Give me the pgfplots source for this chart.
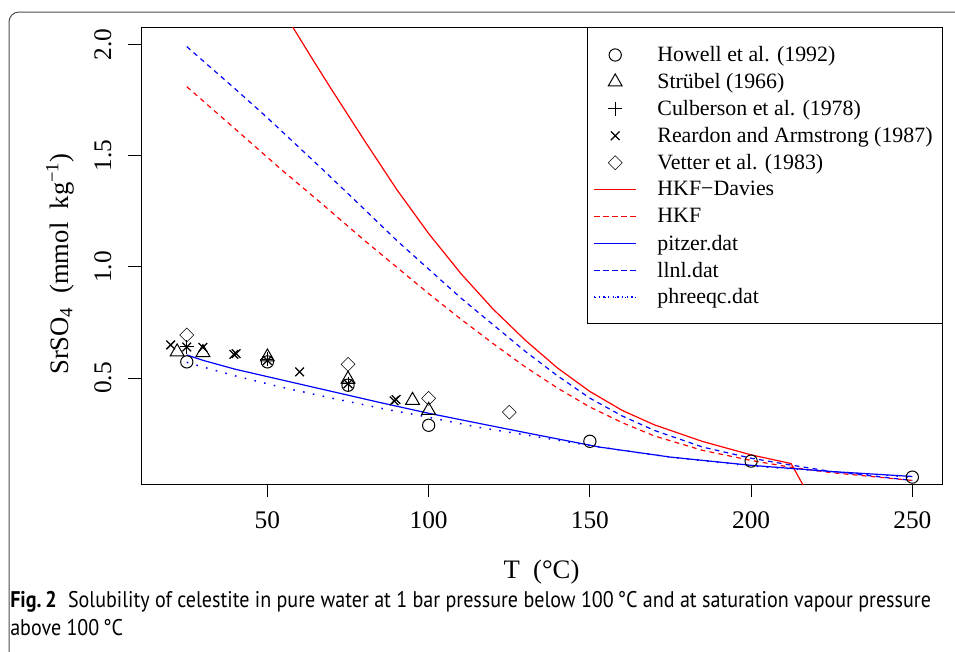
\documentclass[border=0pt]{standalone}
\usepackage{pgfplots}
\pgfplotsset{compat=1.18}
\usepackage{fontspec}
\setmainfont{Liberation Serif}
\newfontfamily\capfont[FakeStretch=0.885]{PT Sans}
\definecolor{rred}{RGB}{255,0,0}
\definecolor{rblue}{RGB}{0,0,255}
\pgfplotsset{
  markleg/.style={legend image code/.code={\draw[mark repeat=2,mark phase=2,##1] plot coordinates {(0pt,0pt) (15.375pt,0pt) (30.75pt,0pt)};}},
  pts/.style={only marks, black, mark options={solid, line width=0.75pt, draw=black, fill=none}, markleg},
  noleg/.style={legend image code/.code={\path (0pt,0pt) -- (30.75pt,0pt);}},
}
\begin{document}
\begin{tikzpicture}
\path[use as bounding box] (0pt,0pt) rectangle (716.25pt,-488.25pt);
\begin{scope}[x=0.75pt,y=-0.75pt]
\draw[line width=0.75pt, color=black!70, rounded corners=7.5pt] (9,660) -- (9,12) -- (965,12);
\node[anchor=base west, inner sep=0pt, font=\capfont\fontsize{17}{19}\selectfont] at (10,607) {\textbf{Fig.\,2}\enspace Solubility of celestite in pure water at 1 bar pressure below 100\,°C and at saturation vapour pressure};
\node[anchor=base west, inner sep=0pt, font=\capfont\fontsize{17}{19}\selectfont] at (10,635) {above 100\,°C};
\end{scope}
\begin{axis}[
  at={(105.75pt,-363pt)}, anchor=south west,
  scale only axis, width=600.75pt, height=342.375pt,
  xmin=10.8, xmax=259.2, ymin=0.024, ymax=2.076,
  axis line style={line width=0.75pt},
  tick style={line width=0.75pt, black},
  tick align=outside, major tick length=9.4pt,
  tick pos=left,
  xtick={50,100,150,200,250}, ytick={0.5,1.0,1.5,2.0},
  yticklabels={},
  /pgf/number format/assume math mode=true,
  xticklabel style={yshift=-7.5pt},
  tick label style={font=\fontsize{19}{22}\selectfont},
  xlabel={T\ \ (°C)},
  ylabel={SrSO\textsubscript{4}\ \ (mmol\ \ kg\textsuperscript{\char"2212 1})},
  every axis x label/.style={at={(rel axis cs:0.5,-0.1928)}, anchor=center, font=\fontsize{20}{23}\selectfont},
  every axis y label/.style={at={(rel axis cs:-0.1011,0.482)}, anchor=center, rotate=90, font=\fontsize{20}{23}\selectfont},
  legend style={at={(rel axis cs:0.5655,0.9693)}, anchor=north west, draw=none, fill=none, inner sep=0pt, outer sep=0pt, row sep=0pt, column sep=15.75pt, font=\fontsize{16.4}{18}\selectfont, nodes={inner sep=0pt, minimum height=20.2pt, text=black}},
  legend cell align=left,
]
% Howell et al. (1992)
\addplot[pts, mark=o, mark size=4.6pt] coordinates {(25,0.573) (50,0.573) (75,0.468) (100,0.288) (150,0.216) (200,0.127) (250,0.055)};
\addlegendentry{Howell et al. (1992)}
% Strubel (1966)
\addplot[pts, mark=triangle, mark size=6pt] coordinates {(22,0.618) (30,0.615) (50,0.595) (75,0.495) (95,0.400) (100,0.355)};
\addlegendentry{Strübel (1966)}
% Culberson et al. (1978)
\addplot[pts, mark=+, mark size=5.2pt] coordinates {(25,0.64) (50,0.585) (75,0.475)};
\addlegendentry{Culberson et al. (1978)}
% Reardon and Armstrong (1987)
\addplot[pts, mark=x, mark size=4.6pt, mark options={line width=0.95pt}] coordinates {(20,0.649) (25,0.64) (30,0.638) (39.6,0.607) (40.3,0.610) (50,0.58) (60,0.528) (75,0.475) (89.3,0.398) (89.9,0.404)};
\addlegendentry{Reardon and Armstrong (1987)}
% Vetter et al. (1983)
\addplot[pts, mark=square, mark size=3.7pt, mark options={rotate=45}] coordinates {(25,0.694) (75,0.562) (100,0.409) (125,0.347)};
\addlegendentry{Vetter et al. (1983)}
% HKF-Davies
\addplot[color=rred, solid, line width=0.9pt, noleg] coordinates {(55,2.16) (57.9,2.077) (65,1.91) (70,1.795) (80,1.57) (90,1.35) (100,1.15) (110,0.97) (120,0.81) (130,0.67) (140,0.545) (150,0.44) (160,0.355) (170,0.29) (185,0.215) (200,0.155) (212.4,0.116) (218,-0.03)};
\addlegendentry{HKF\char"2212 Davies}
% HKF
\addplot[color=rred, line width=0.9pt, dash pattern=on 3.6pt off 3.2pt, noleg] coordinates {(25,1.81) (40,1.62) (53.8,1.444) (67.2,1.28) (80,1.12) (90,1.0) (100,0.88) (110,0.765) (120,0.655) (130,0.55) (140,0.455) (150,0.37) (160,0.30) (170,0.24) (185,0.175) (200,0.13) (212,0.10) (225,0.075) (250,0.04)};
\addlegendentry{HKF}
% pitzer
\addplot[color=rblue, solid, line width=0.9pt, noleg] coordinates {(25,0.604) (30,0.58) (40,0.54) (53.8,0.494) (70,0.44) (85,0.39) (100,0.342) (115.8,0.296) (130,0.255) (153,0.19) (175,0.145) (200,0.108) (225,0.08) (250,0.058)};
\addlegendentry{pitzer.dat}
% llnl
\addplot[color=rblue, line width=0.9pt, dash pattern=on 3.6pt off 3.2pt, noleg] coordinates {(25,1.99) (40,1.80) (50,1.67) (67.2,1.437) (80,1.26) (90,1.12) (100,0.99) (110,0.86) (120,0.74) (130,0.62) (140,0.51) (150,0.41) (160,0.33) (170,0.265) (185,0.19) (200,0.14) (212,0.11) (225,0.08) (250,0.04)};
\addlegendentry{llnl.dat}
% phreeqc
\addplot[color=rblue, line width=1.1pt, dash pattern=on 1.2pt off 6.3pt, noleg] coordinates {(25,0.571) (30,0.55) (40,0.51) (53.8,0.461) (70,0.41) (85,0.365) (100,0.324) (115.8,0.278) (130,0.245) (153,0.19) (175,0.145) (200,0.105) (225,0.08) (250,0.055)};
\addlegendentry{phreeqc.dat}
\draw[line width=0.75pt] (rel axis cs:0.558,1) rectangle (rel axis cs:1,0.3527);
\end{axis}
\begin{scope}[x=0.75pt,y=-0.75pt]
% y tick labels
\foreach \yy/\lab in {44.4/2.0, 155.6/1.5, 266.9/1.0, 378.1/0.5}
  \node[rotate=90, inner sep=0pt, font=\fontsize{19}{22}\selectfont] at (103,\yy) {\lab};
% legend line samples
\draw[rred, line width=1.1pt] (594,189.5) -- (635,189.5);
\draw[rred, line width=1pt, dash pattern=on 3.6pt off 3.2pt] (594,216.4) -- (635,216.4);
\draw[rblue, line width=1.1pt] (594,243.3) -- (635,243.3);
\draw[rblue, line width=1pt, dash pattern=on 3.6pt off 3.2pt] (594,270.2) -- (635,270.2);
\draw[rblue, line width=1pt, dash pattern=on 0.9pt off 2.6pt] (594,297.1) -- (635,297.1);
\end{scope}
\end{tikzpicture}
\end{document}
